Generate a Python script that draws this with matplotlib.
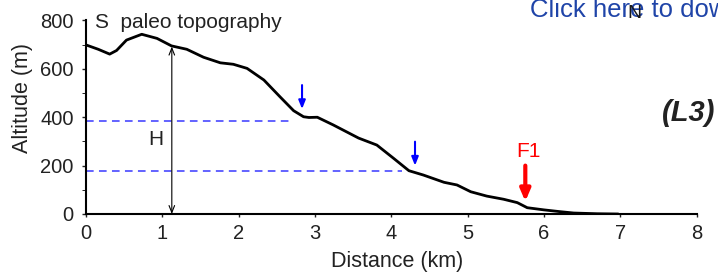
import matplotlib
matplotlib.use("Agg")
import matplotlib.pyplot as plt

plt.rcParams['font.family'] = ['Liberation Sans', 'DejaVu Sans']

# profile (km, m)
dist = [0.00, 0.16, 0.31, 0.40, 0.53, 0.73, 0.93, 1.12, 1.32, 1.54, 1.76,
        1.93, 2.11, 2.33, 2.54, 2.72, 2.85, 2.92, 3.03, 3.24, 3.57, 3.81,
        4.03, 4.23, 4.42, 4.69, 4.86, 5.04, 5.25, 5.47, 5.65, 5.78, 6.00,
        6.20, 6.39, 6.70, 6.96]
alt = [699, 681, 661, 676, 719, 743, 726, 695, 681, 648, 625,
       619, 602, 554, 485, 427, 402, 399, 400, 368, 314, 285,
       230, 179, 161, 131, 120, 92, 74, 61, 47, 26, 17,
       10, 4, 1, 0]

# terrace levels (m) and where their dashed lines stop (km)
levels = [386, 179]
level_ends = [2.70, 4.14]
# blue arrows: x, top, bottom
knick_x = [2.83, 4.31]
knick_top = [533, 299]
knick_bot = [434, 200]
# fault F1
f1_x = 5.755
f1_top, f1_bot = 200, 52
# relief H
h_x, h_top = 1.124, 692

fig = plt.figure(figsize=(7.18, 2.74), dpi=100)
ax = fig.add_axes([0.1198, 0.219, 0.8505, 0.7062])

ax.plot(dist, alt, color='black', lw=2)

for lv, xe in zip(levels, level_ends):
    ax.plot([0, xe], [lv, lv], color='#3838ff', lw=1.1, ls=(0, (5, 3.5)))

for x, t, b in zip(knick_x, knick_top, knick_bot):
    ax.annotate('', xy=(x, b), xytext=(x, t),
                arrowprops=dict(arrowstyle='-|>,head_length=0.5,head_width=0.2',
                                color='#0000ff', lw=1.5, shrinkA=0, shrinkB=0))

ax.annotate('', xy=(f1_x, f1_bot), xytext=(f1_x, f1_top),
            arrowprops=dict(arrowstyle='-|>,head_length=0.7,head_width=0.3',
                            color='#ff0000', lw=3, shrinkA=0, shrinkB=0))
ax.text(5.80, 258, 'F1', color='#ff0000', fontsize=15, ha='center', va='center')

ax.annotate('', xy=(h_x, 0), xytext=(h_x, h_top),
            arrowprops=dict(arrowstyle='<->,head_length=0.5,head_width=0.2',
                            color='black', lw=0.8, shrinkA=0, shrinkB=0))
ax.text(0.92, 310, 'H', fontsize=15, ha='center', va='center', color='#222222')

ax.text(0.12, 769, 'S  paleo topography', fontsize=15, ha='left',
        va='baseline', color='#222222')

ax.set_xlim(0, 8)
ax.set_ylim(0, 800)
ax.set_xticks(range(0, 9))
ax.set_yticks([0, 200, 400, 600, 800])
ax.set_yticks([100, 300, 500, 700], minor=True)
ax.spines['top'].set_visible(False)
ax.spines['right'].set_visible(False)
ax.spines['left'].set_linewidth(1.5)
ax.spines['bottom'].set_linewidth(1.5)
ax.tick_params(axis='both', labelsize=14.5, colors='#222222', width=1, length=3)
ax.tick_params(axis='y', which='both', length=3, pad=6)
ax.tick_params(axis='x', length=2, pad=5)
ax.set_xlabel('Distance (km)', fontsize=15.5, color='#222222')
ax.set_ylabel('Altitude (m)', fontsize=15.5, color='#222222')
ax.xaxis.set_label_coords(0.51, -0.19)
ax.yaxis.set_label_coords(-0.086, 0.60)

fig.text(530 / 718, 1 - 16.7 / 274, 'Click here to download', color='#1f44a8',
         fontsize=18.5, va='baseline', ha='left')
fig.text(627 / 718, 1 - 14 / 274, 'N', color='#1a1a1a', fontsize=14,
         va='center', ha='left')
fig.text(0.996, 1 - 113 / 274, '(L3)', fontsize=21, fontweight='bold',
         fontstyle='italic', ha='right', va='center', color='#222222')

fig.savefig('out.png', dpi=100)
